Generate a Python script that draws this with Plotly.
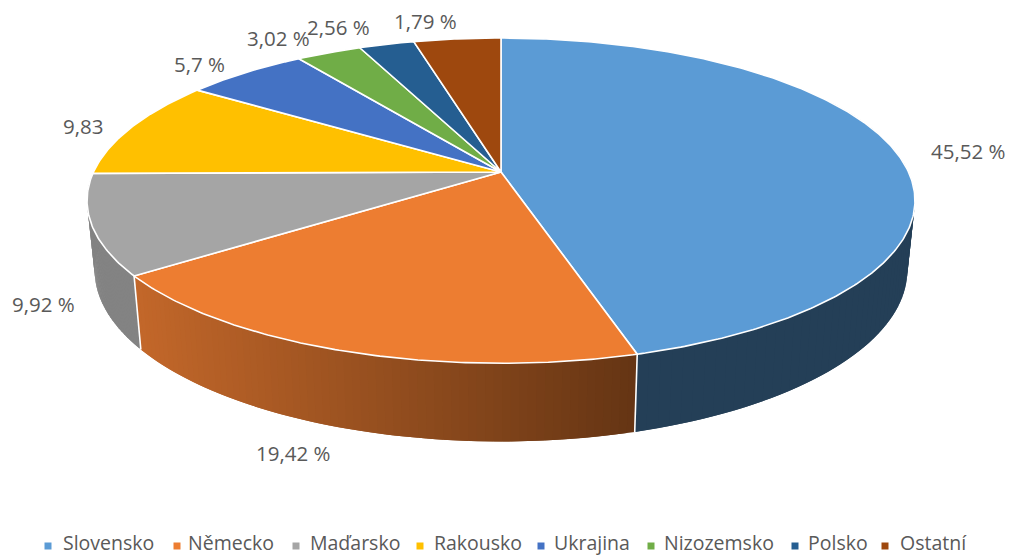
import numpy as np
import plotly.graph_objects as go

categories = ["Slovensko", "Německo", "Maďarsko", "Rakousko", "Ukrajina", "Nizozemsko", "Polsko", "Ostatní"]
shares = [45.52, 19.42, 9.92, 9.83, 5.7, 3.02, 2.56, 4.03]
value_labels = ["45,52 %", "19,42 %", "9,92 %", "9,83", "5,7 %", "3,02 %", "2,56 %", "1,79 %"]
colors = ["#5B9BD5", "#ED7D31", "#A5A5A5", "#FFC000", "#4472C4", "#70AD47", "#255E91", "#9E480E"]

label_x = [968, 293, 43, 83, 199, 278, 338, 425]
label_y = [151, 453, 304, 126, 64, 38, 27, 21]
legend_marker_x = [48, 177, 296, 420, 541, 651, 795, 885]
legend_text_x = [61, 186, 308, 432, 552, 662, 806, 898]
LEGEND_Y = 542

# Projected pie geometry (perspective view of a cylinder)
CX, K = 501.0, 0.176
TOP = dict(r=407.5, s=157.6, cy=172.0)
BASE = dict(r=400.0, s=166.0, cy=240.0)
TEXT = "#595959"
FONT = "Open Sans"


def project(theta_deg, plane):
    t = np.radians(theta_deg)
    u, v = np.sin(t), -np.cos(t)
    d = 1 - K * v
    return CX + plane["r"] * u / d, plane["cy"] + plane["s"] * v / d


def rgb(c):
    return f"rgb({int(c[0])},{int(c[1])},{int(c[2])})"


# wall gradient colours (left end, right end in screen space)
wall_colors = {
    0: ((36, 63, 87), (36, 63, 87)),
    1: ((194, 103, 42), (101, 53, 20)),
    2: ((131, 131, 131), (143, 143, 143)),
}

edges = np.concatenate([[0], np.cumsum(shares)]) / sum(shares) * 360

fig = go.Figure()

# side walls: overlapping strips, painted in order of increasing angle so no seams show
for i, (c0, c1) in wall_colors.items():
    a0 = max(edges[i], 60)
    a1 = min(edges[i + 1], 300)
    n = 70
    d = (a1 - a0) / n
    for k in range(n):
        a, b = a0 + k * d, min(a0 + (k + 2) * d, a1)
        xt, yt = project(np.array([a, b]), TOP)
        xb, yb = project(np.array([b, a]), BASE)
        f = np.clip((xt.mean() / 2 + xb.mean() / 2 - 143) / (634 - 143), 0, 1)
        col = rgb([c0[j] + (c1[j] - c0[j]) * f for j in range(3)])
        fig.add_trace(go.Scatter(x=np.r_[xt, xb, xt[0]], y=np.r_[yt, yb, yt[0]], mode="lines",
                                 fill="toself", fillcolor=col, line=dict(width=0),
                                 hoverinfo="skip", showlegend=False))

# white separators on the wall
for a in edges[1:3]:
    xt, yt = project(a, TOP)
    xb, yb = project(a, BASE)
    fig.add_trace(go.Scatter(x=[xt, xb], y=[yt, yb], mode="lines",
                             line=dict(color="white", width=1.6), hoverinfo="skip", showlegend=False))

# top face wedges
for i, name in enumerate(categories):
    th = np.linspace(edges[i], edges[i + 1], max(3, int((edges[i + 1] - edges[i]) * 2)))
    xr, yr = project(th, TOP)
    fig.add_trace(go.Scatter(x=np.r_[CX, xr, CX], y=np.r_[TOP["cy"], yr, TOP["cy"]], mode="lines",
                             fill="toself", fillcolor=colors[i], line=dict(color="white", width=1.6),
                             name=name, hoverinfo="name", showlegend=False))

# legend markers
for i, name in enumerate(categories):
    fig.add_trace(go.Scatter(x=[legend_marker_x[i]], y=[546], mode="markers",
                             marker=dict(symbol="square", size=7, color=colors[i]),
                             hoverinfo="skip", showlegend=False))

annotations = []
for t, x, y in zip(value_labels, label_x, label_y):
    annotations.append(dict(x=x, y=y, text=t, showarrow=False, xanchor="center", yanchor="middle",
                            font=dict(family=FONT, size=20.5, color=TEXT)))
for t, x in zip(categories, legend_text_x):
    annotations.append(dict(x=x, y=LEGEND_Y, text=t, showarrow=False, xanchor="left", yanchor="middle",
                            font=dict(family=FONT, size=19.5, color=TEXT)))

fig.update_layout(
    width=1009, height=556, margin=dict(l=0, r=0, t=0, b=0),
    paper_bgcolor="white", plot_bgcolor="white", annotations=annotations,
    xaxis=dict(range=[0, 1009], visible=False, fixedrange=True),
    yaxis=dict(range=[556, 0], visible=False, fixedrange=True),
)

fig.write_html("out.html", config={"displayModeBar": False},
               post_script="document.body.style.margin='0';document.documentElement.style.overflow='hidden';")
